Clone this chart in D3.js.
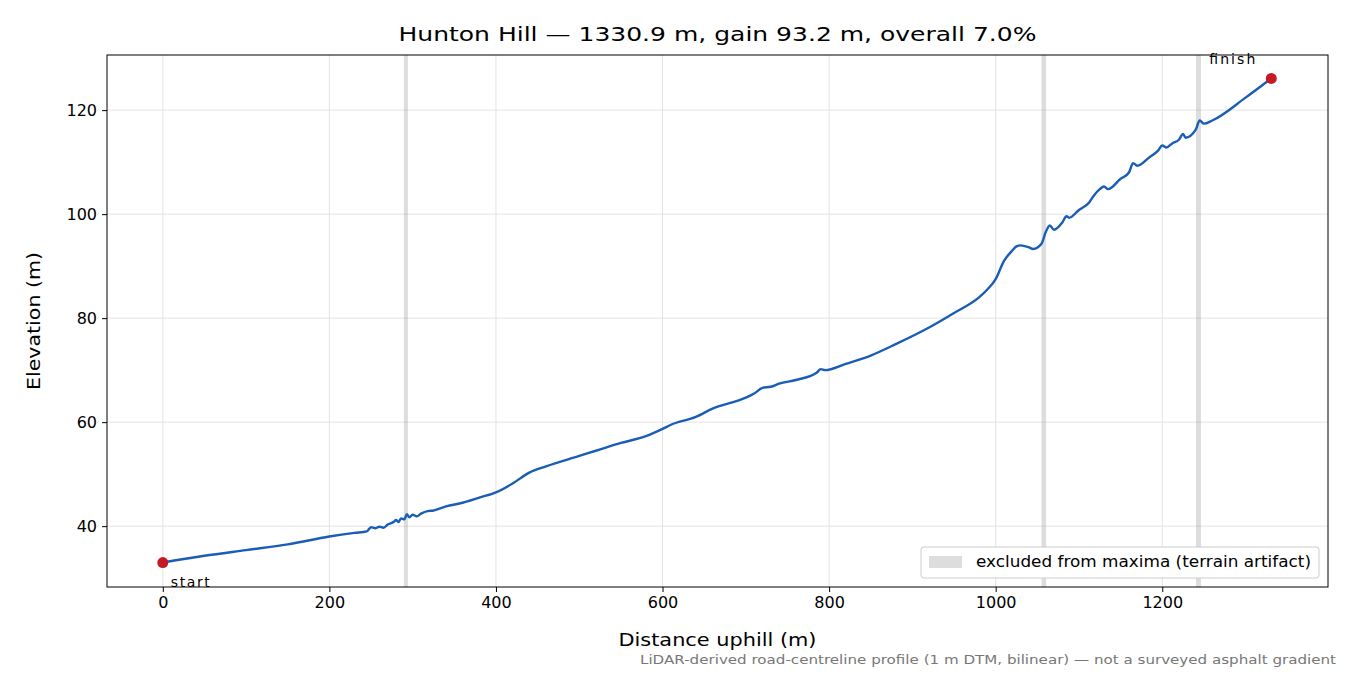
<!DOCTYPE html><html><head><meta charset="utf-8"><script src="https://cdn.jsdelivr.net/npm/d3@7"></script>
<style>body{margin:0;background:#fff}text{font-family:"DejaVu Sans",sans-serif}</style></head><body><svg id="c" width="1350" height="675"></svg><script>
const dist=[0,50,100,150,200,230,245,250,255,260,265,270,278,280,283,286,290,293,296,300,305,310,318,325,340,360,380,400,420,440,460,500,520,550,580,600,610,640,660,700,710,720,730,740,760,785,790,795,820,850,880,920,950,980,990,1000,1010,1020,1025,1030,1040,1045,1055,1060,1065,1070,1080,1085,1088,1100,1112,1118,1125,1130,1135,1150,1160,1165,1170,1185,1195,1200,1205,1212,1220,1225,1228,1240,1245,1250,1260,1300,1330.9];
const elev=[33.0,34.3,35.4,36.5,38.0,38.7,39.0,39.8,39.6,39.9,39.7,40.3,40.9,41.2,40.8,41.5,41.3,42.3,41.7,42.2,41.9,42.4,42.9,43.0,43.8,44.5,45.5,46.5,48.2,50.3,51.5,53.5,54.5,56.0,57.3,58.7,59.5,61.0,62.6,64.7,65.5,66.6,66.8,67.4,68.1,69.5,70.2,70.0,71.2,72.8,75.0,78.2,81.0,84.0,85.5,87.5,91.0,93.0,93.8,94.0,93.6,93.3,94.3,96.5,97.8,97.0,98.4,99.6,99.3,100.8,102.2,103.6,104.8,105.3,104.8,106.8,108.0,109.8,109.3,111.0,112.2,113.2,112.8,113.6,114.3,115.4,114.7,116.2,118.0,117.4,118.0,122.4,126.1];
const bands=[[289.5,294.3],[1055,1060.5],[1240.5,1246.5]];
const xTicks=[0,200,400,600,800,1000,1200], yTicks=[40,60,80,100,120];
const svg=d3.select("#c");
const L=107,R=1328,T=55,B=587;
const x=d3.scaleLinear().domain([-67,1399]).range([L,R]);
const y=d3.scaleLinear().domain([28.3,130.6]).range([B,T]);
const g=svg.append("g");
g.selectAll(".gx").data(xTicks).join("line").attr("x1",d=>x(d)).attr("x2",d=>x(d)).attr("y1",T).attr("y2",B).attr("stroke","#e3e3e3").attr("stroke-width",1);
g.selectAll(".gy").data(yTicks).join("line").attr("x1",L).attr("x2",R).attr("y1",d=>y(d)).attr("y2",d=>y(d)).attr("stroke","#e3e3e3").attr("stroke-width",1);
g.selectAll(".b").data(bands).join("rect").attr("x",d=>x(d[0])).attr("width",d=>x(d[1])-x(d[0])).attr("y",T).attr("height",B-T).attr("fill","#9e9e9e").attr("opacity",0.35);
const pts=dist.map((d,i)=>[d,elev[i]]);
g.append("path").attr("d",d3.line().curve(d3.curveMonotoneX).x(d=>x(d[0])).y(d=>y(d[1]))(pts)).attr("fill","none").attr("stroke","#1a5db5").attr("stroke-width",2.4);
const ends=[pts[0],pts[pts.length-1]];
g.selectAll(".e").data(ends).join("circle").attr("cx",d=>x(d[0])).attr("cy",d=>y(d[1])).attr("r",5.5).attr("fill","#c41a24");
g.append("text").attr("x",x(0)+8).attr("y",y(33)+24).attr("font-size",14).attr("textLength",39).text("start");
g.append("text").attr("x",x(1330.9)-62).attr("y",y(126.1)-14).attr("font-size",14).attr("textLength",46).text("finish");
g.append("rect").attr("x",L).attr("y",T).attr("width",R-L).attr("height",B-T).attr("fill","none").attr("stroke","#000");
const xa=svg.append("g").attr("transform",`translate(0,${B})`).call(d3.axisBottom(x).tickValues(xTicks).tickFormat(d3.format("d")).tickSize(5).tickPadding(5));
const ya=svg.append("g").attr("transform",`translate(${L},0)`).call(d3.axisLeft(y).tickValues(yTicks).tickFormat(d3.format("d")).tickSize(5).tickPadding(5));
[xa,ya].forEach(a=>{a.select(".domain").remove();a.selectAll("text").attr("font-size",16).attr("font-family","DejaVu Sans").attr("fill","#000");});
svg.append("text").attr("x",(L+R)/2).attr("y",41).attr("text-anchor","middle").attr("font-size",20).attr("textLength",638).attr("lengthAdjust","spacingAndGlyphs").text("Hunton Hill — 1330.9 m, gain 93.2 m, overall 7.0%");
svg.append("text").attr("x",(L+R)/2).attr("y",646).attr("text-anchor","middle").attr("font-size",17).attr("textLength",198).attr("lengthAdjust","spacingAndGlyphs").text("Distance uphill (m)");
svg.append("text").attr("transform","translate(40,321) rotate(-90)").attr("text-anchor","middle").attr("font-size",17).attr("textLength",138).attr("lengthAdjust","spacingAndGlyphs").text("Elevation (m)");
svg.append("text").attr("x",640).attr("y",664).attr("font-size",13).attr("fill","#777").attr("textLength",696).attr("lengthAdjust","spacingAndGlyphs").text("LiDAR-derived road-centreline profile (1 m DTM, bilinear) — not a surveyed asphalt gradient");
const lg=svg.append("g");
lg.append("rect").attr("x",921).attr("y",547).attr("width",398).attr("height",31).attr("rx",3).attr("fill","#fff").attr("stroke","#ccc");
lg.append("rect").attr("x",929).attr("y",556).attr("width",33).attr("height",12).attr("fill","#9e9e9e").attr("opacity",0.35);
lg.append("text").attr("x",976).attr("y",567).attr("font-size",15).attr("textLength",335).attr("lengthAdjust","spacingAndGlyphs").text("excluded from maxima (terrain artifact)");
</script></body></html>
